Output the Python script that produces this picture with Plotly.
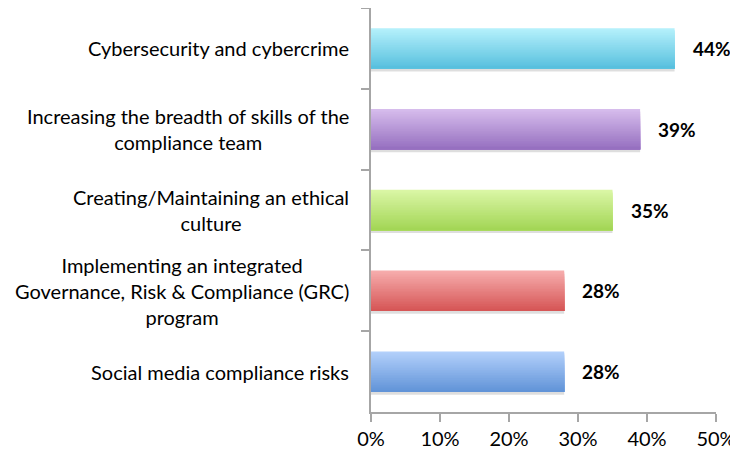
import plotly.graph_objects as go

categories = [
    "Cybersecurity and cybercrime",
    "Increasing the breadth of skills of the<br>compliance team",
    "Creating/Maintaining an ethical<br>culture",
    "Implementing an integrated<br>Governance, Risk & Compliance (GRC)<br>program",
    "Social media compliance risks",
]
values = [44, 39, 35, 28, 28]
value_labels = ["44%", "39%", "35%", "28%", "28%"]
x_ticks = [0, 10, 20, 30, 40, 50]
x_tick_labels = ["0%", "10%", "20%", "30%", "40%", "50%"]

# gradient colours (top, bottom) per bar
top_colors = [(180, 240, 251), (214, 188, 236), (218, 246, 165), (246, 172, 172), (178, 208, 251)]
bot_colors = [(88, 192, 222), (150, 112, 192), (163, 214, 86), (214, 86, 86), (98, 148, 216)]

FONT = "Lato"
N = 24
BAR_W = 0.5

fig = go.Figure()

# soft shadow
fig.add_trace(go.Bar(
    y=categories, x=values, orientation="h",
    width=BAR_W, offset=-BAR_W / 2 + 0.035,
    marker=dict(color="rgba(0,0,0,0.13)", line=dict(width=0)),
    hoverinfo="skip", showlegend=False,
))

for i in range(N):
    t = i / (N - 1)
    cols = []
    for tc, bc in zip(top_colors, bot_colors):
        c = tuple(round(a + (b - a) * t) for a, b in zip(tc, bc))
        cols.append("rgb(%d,%d,%d)" % c)
    w = BAR_W / N
    fig.add_trace(go.Bar(
        y=categories, x=values, orientation="h",
        width=BAR_W - i * w, offset=-BAR_W / 2 + i * w,
        marker=dict(color=cols, line=dict(width=0)),
        hoverinfo="skip", showlegend=False,
    ))

annotations = []
for cat, v, lab in zip(categories, values, value_labels):
    annotations.append(dict(
        x=v, y=cat, xref="x", yref="y", text="<b>" + lab + "</b>",
        showarrow=False, xanchor="left", xshift=16,
        font=dict(family=FONT, size=19, color="black"),
    ))
    annotations.append(dict(
        x=0, y=cat, xref="paper", yref="y", text=cat,
        showarrow=False, xanchor="right", xshift=-20, align="center",
        font=dict(family=FONT, size=20, color="black"),
    ))

fig.update_layout(
    width=730, height=447,
    margin=dict(l=362.5, r=21.5, t=0, b=43),
    paper_bgcolor="white", plot_bgcolor="white",
    barmode="overlay", bargap=0.5,
    annotations=annotations,
    xaxis=dict(
        range=[0, 50], tickvals=x_ticks, ticktext=x_tick_labels,
        showgrid=False, zeroline=False, showline=True, linecolor="#a6a6a6", linewidth=1.5,
        ticks="outside", ticklen=8, tickcolor="#a6a6a6", tickwidth=1.5,
        tickfont=dict(family=FONT, size=20, color="black"),
    ),
    yaxis=dict(
        type="category", categoryorder="array", categoryarray=categories,
        autorange="reversed", showticklabels=False, tickson="boundaries",
        showgrid=False, zeroline=False, showline=True, linecolor="#a6a6a6", linewidth=1.5,
        ticks="outside", ticklen=8, tickcolor="#a6a6a6", tickwidth=1.5,
    ),
)

fig.write_html("out.html")
